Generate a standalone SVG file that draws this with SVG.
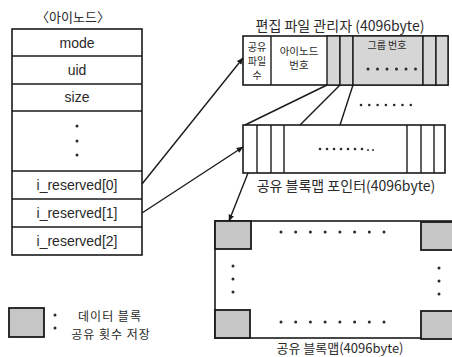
<svg xmlns="http://www.w3.org/2000/svg" width="452" height="357" viewBox="0 0 452 357">
<defs>
<style>
.t{font-family:"Liberation Sans","Noto Sans CJK KR",sans-serif;fill:#2a2a2a;text-anchor:middle;dominant-baseline:central}
.k{font-family:"Noto Sans CJK KR","Liberation Sans",sans-serif;fill:#2a2a2a;text-anchor:middle;dominant-baseline:central}
.box{fill:#fff;stroke:#1a1a1a;stroke-width:1.6}
.ln{stroke:#1a1a1a;stroke-width:1.4;fill:none}
.g{fill:#d6d6d6;stroke:#1a1a1a;stroke-width:1.4}
.sq{fill:#c6c6c6;stroke:#1a1a1a;stroke-width:1.8}
.dot{fill:#2a2a2a}
.con{stroke:#1a1a1a;stroke-width:1.4;fill:none}
</style>
<marker id="ah" viewBox="0 0 10 10" refX="9" refY="5" markerWidth="7" markerHeight="7" orient="auto" markerUnits="userSpaceOnUse">
<path d="M0,1 L10,5 L0,9 z" fill="#1a1a1a"/>
</marker>
</defs>
<rect width="452" height="357" fill="#fff"/>

<g id="inode">
<text class="k" x="73" y="16" font-size="13">〈아이노드〉</text>
<rect class="box" x="12" y="29" width="130" height="226"/>
<line class="ln" x1="12" y1="56" x2="142" y2="56"/>
<line class="ln" x1="12" y1="84" x2="142" y2="84"/>
<line class="ln" x1="12" y1="111" x2="142" y2="111"/>
<line class="ln" x1="12" y1="171" x2="142" y2="171"/>
<line class="ln" x1="12" y1="199" x2="142" y2="199"/>
<line class="ln" x1="12" y1="227" x2="142" y2="227"/>
<text class="t" x="77" y="43" font-size="14">mode</text>
<text class="t" x="77" y="70" font-size="14">uid</text>
<text class="t" x="77" y="97" font-size="14">size</text>
<circle class="dot" cx="77" cy="126" r="1.5"/>
<circle class="dot" cx="77" cy="141" r="1.5"/>
<circle class="dot" cx="77" cy="155" r="1.5"/>
<text class="t" x="77" y="185" font-size="14">i_reserved[0]</text>
<text class="t" x="77" y="213" font-size="14">i_reserved[1]</text>
<text class="t" x="77" y="241" font-size="14">i_reserved[2]</text>
</g>

<g id="edit-file-manager">
<text class="k" x="340" y="25" font-size="14">편집 파일 관리자 (4096byte)</text>
<rect class="box" x="243" y="36" width="205" height="49"/>
<rect class="g" x="327" y="36" width="13" height="49"/>
<rect class="g" x="340" y="36" width="13" height="49"/>
<rect class="g" x="353" y="36" width="70" height="49"/>
<rect class="g" x="423" y="36" width="13" height="49"/>
<rect class="g" x="436" y="36" width="12" height="49"/>
<line class="ln" x1="271" y1="36" x2="271" y2="85"/>
<text class="k" x="257" y="46" font-size="10">공유</text>
<text class="k" x="257" y="60" font-size="10">파일</text>
<text class="k" x="257" y="74" font-size="10">수</text>
<text class="k" x="299" y="50" font-size="10.5">아이노드</text>
<text class="k" x="299" y="64" font-size="10.5">번호</text>
<text class="k" x="387" y="44" font-size="10">그룹 번호</text>
<circle class="dot" cx="368" cy="69" r="1.5"/>
<circle class="dot" cx="377.5" cy="69" r="1.5"/>
<circle class="dot" cx="387" cy="69" r="1.5"/>
<circle class="dot" cx="396.5" cy="69" r="1.5"/>
<circle class="dot" cx="406" cy="69" r="1.5"/>
<circle class="dot" cx="415.5" cy="69" r="1.5"/>
</g>

<g id="between-dots">
<circle class="dot" cx="361" cy="105" r="1.3"/>
<circle class="dot" cx="369.3" cy="105" r="1.3"/>
<circle class="dot" cx="377.6" cy="105" r="1.3"/>
<circle class="dot" cx="385.9" cy="105" r="1.3"/>
<circle class="dot" cx="394.2" cy="105" r="1.3"/>
<circle class="dot" cx="402.5" cy="105" r="1.3"/>
<circle class="dot" cx="410.8" cy="105" r="1.3"/>
</g>

<g id="shared-blockmap-pointer">
<rect class="box" x="243" y="125" width="202" height="48"/>
<line class="ln" x1="257" y1="125" x2="257" y2="173"/>
<line class="ln" x1="271" y1="125" x2="271" y2="173"/>
<line class="ln" x1="284" y1="125" x2="284" y2="173"/>
<line class="ln" x1="407" y1="125" x2="407" y2="173"/>
<line class="ln" x1="421" y1="125" x2="421" y2="173"/>
<line class="ln" x1="434" y1="125" x2="434" y2="173"/>
<circle class="dot" cx="320" cy="149" r="1.3"/>
<circle class="dot" cx="327" cy="149" r="1.3"/>
<circle class="dot" cx="334" cy="149" r="1.3"/>
<circle class="dot" cx="341" cy="149" r="1.3"/>
<circle class="dot" cx="348" cy="149" r="1.3"/>
<circle class="dot" cx="355" cy="149" r="1.3"/>
<circle class="dot" cx="362" cy="149" r="1.3"/>
<circle class="dot" cx="368" cy="150" r="1"/>
<circle class="dot" cx="373" cy="150" r="1"/>
<text class="k" x="346" y="185" font-size="14">공유 블록맵 포인터(4096byte)</text>
</g>

<g id="shared-blockmap">
<rect class="box" x="215" y="221" width="245" height="117"/>
<rect class="sq" x="215" y="221" width="36" height="28"/>
<rect class="sq" x="215" y="310" width="35" height="28"/>
<rect class="sq" x="421" y="222" width="40" height="28"/>
<rect class="sq" x="421" y="311" width="40" height="28"/>
<g class="dot">
<circle cx="281" cy="232" r="1.5"/><circle cx="295.7" cy="232" r="1.5"/><circle cx="310.4" cy="232" r="1.5"/><circle cx="325.1" cy="232" r="1.5"/><circle cx="339.9" cy="232" r="1.5"/><circle cx="354.6" cy="232" r="1.5"/><circle cx="369.3" cy="232" r="1.5"/><circle cx="384" cy="232" r="1.5"/>
<circle cx="281" cy="322" r="1.5"/><circle cx="295.7" cy="322" r="1.5"/><circle cx="310.4" cy="322" r="1.5"/><circle cx="325.1" cy="322" r="1.5"/><circle cx="339.9" cy="322" r="1.5"/><circle cx="354.6" cy="322" r="1.5"/><circle cx="369.3" cy="322" r="1.5"/><circle cx="384" cy="322" r="1.5"/>
<circle cx="233" cy="266" r="1.5"/><circle cx="233" cy="279" r="1.5"/><circle cx="233" cy="292" r="1.5"/>
<circle cx="439" cy="268" r="1.5"/><circle cx="439" cy="281" r="1.5"/><circle cx="439" cy="294" r="1.5"/>
</g>
<text class="k" x="340" y="347" font-size="13">공유 블록맵(4096byte)</text>
</g>

<g id="legend">
<rect class="sq" x="9" y="308" width="35" height="29"/>
<circle class="dot" cx="55" cy="315" r="1.5"/>
<circle class="dot" cx="55" cy="328" r="1.5"/>
<text class="k" x="110" y="315" font-size="12" letter-spacing="1">데이터 블록</text>
<text class="k" x="111" y="333" font-size="12" letter-spacing="1">공유 횟수 저장</text>
</g>

<g id="connectors">
<line class="con" x1="142" y1="184" x2="243" y2="58" marker-end="url(#ah)"/>
<line class="con" x1="142" y1="213" x2="243" y2="147" marker-end="url(#ah)"/>
<line class="con" x1="248" y1="173" x2="229" y2="221" marker-end="url(#ah)"/>
<line class="con" x1="327" y1="85" x2="245" y2="125"/>
<line class="con" x1="340" y1="85" x2="300" y2="125"/>
<line class="con" x1="353" y1="85" x2="340" y2="125"/>
</g>
</svg>
